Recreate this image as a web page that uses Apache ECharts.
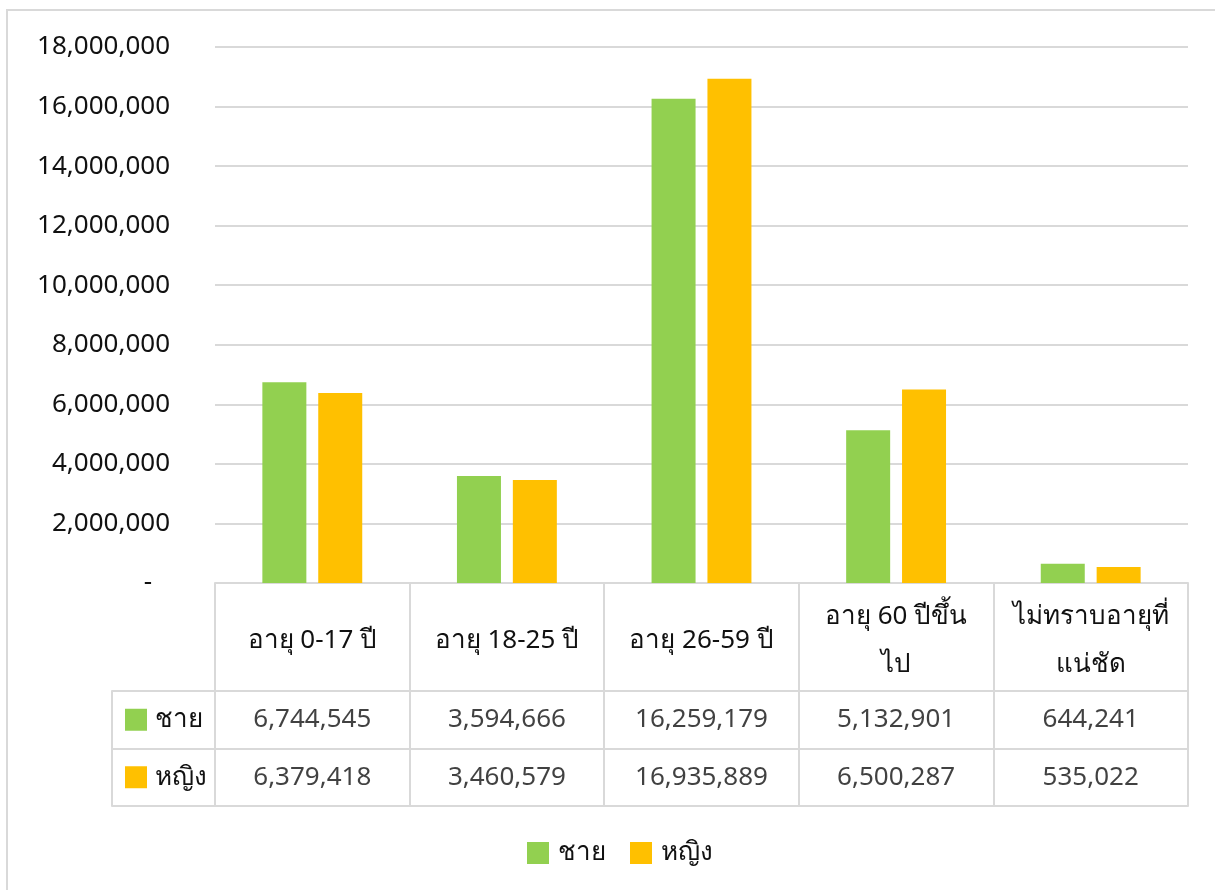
<!DOCTYPE html>
<html>
<head>
<meta charset="utf-8">
<script src="https://cdn.jsdelivr.net/npm/echarts@6/dist/echarts.min.js"></script>
<style>
  html, body { margin: 0; padding: 0; background: #fff; }
  #chart { width: 1215px; height: 890px; }
</style>
</head>
<body>
<div id="chart"></div>
<script>
// หมวดอายุ (header row of the table)
const categories = ['อายุ 0-17 ปี', 'อายุ 18-25 ปี', 'อายุ 26-59 ปี', 'อายุ 60 ปีขึ้น\nไป', 'ไม่ทราบอายุที่\nแน่ชัด'];
const seriesNames = ['ชาย', 'หญิง'];
const maleValues = [6744545, 3594666, 16259179, 5132901, 644241];
const femaleValues = [6379418, 3460579, 16935889, 6500287, 535022];
const yMax = 18000000;
const yStep = 2000000;

const colors = ['#92d050', '#ffc000'];
const lineColor = '#d9d9d9';
const textColor = '#111111';
const font = 'Noto Sans, DejaVu Sans, sans-serif';

const fmt = v => v.toLocaleString('en-US');

const chart = echarts.init(document.getElementById('chart'));

const tableData = [maleValues, femaleValues].map((vals, r) =>
  vals.map((v, i) => [i, r, v])
);

const option = {
  textStyle: { fontFamily: font, color: textColor },
  color: colors,
  grid: [
    { left: 215, right: 27, top: 47, bottom: 307 },
    { left: 215, right: 27, top: 691, bottom: 84 }
  ],
  xAxis: [
    {
      type: 'category',
      gridIndex: 0,
      data: categories,
      axisLine: { lineStyle: { color: lineColor, width: 2 } },
      axisTick: { show: true, interval: 0, length: 223, lineStyle: { color: lineColor, width: 2 } },
      axisLabel: {
        interval: 0,
        margin: 58,
        verticalAlign: 'middle',
        lineHeight: 48,
        fontSize: 26,
        color: textColor,
        fontFamily: font
      }
    },
    {
      type: 'category',
      gridIndex: 1,
      data: categories,
      axisLine: { lineStyle: { color: lineColor, width: 2 } },
      axisTick: { show: false },
      axisLabel: { show: false }
    },
    {
      type: 'category',
      gridIndex: 1,
      position: 'top',
      data: categories,
      axisLine: { lineStyle: { color: lineColor, width: 2 } },
      axisTick: { show: false },
      axisLabel: { show: false }
    }
  ],
  yAxis: [
    {
      type: 'value',
      gridIndex: 0,
      min: 0,
      max: yMax,
      interval: yStep,
      axisLine: { show: false },
      axisTick: { show: false },
      splitLine: { lineStyle: { color: lineColor, width: 2 } },
      axisLabel: {
        margin: 45,
        fontSize: 26,
        color: textColor,
        fontFamily: font,
        formatter: v => v === 0 ? '{z|-}' : fmt(v),
        rich: { z: { fontSize: 26, padding: [0, 18, 0, 0], color: textColor } }
      }
    },
    {
      type: 'category',
      gridIndex: 1,
      inverse: true,
      data: seriesNames,
      axisLine: { lineStyle: { color: lineColor, width: 2 } },
      axisTick: { show: true, interval: 0, length: 103, lineStyle: { color: lineColor, width: 2 } },
      splitLine: { show: true, lineStyle: { color: lineColor, width: 2 } },
      axisLabel: {
        margin: 90,
        align: 'left',
        formatter: (v, i) => '{s' + i + '|}{t|' + v + '}',
        rich: {
          s0: { width: 22, height: 22, backgroundColor: colors[0] },
          s1: { width: 22, height: 22, backgroundColor: colors[1] },
          t: { fontSize: 26, color: textColor, fontFamily: font, padding: [0, 0, 0, 8] }
        }
      }
    },
    {
      type: 'category',
      gridIndex: 1,
      position: 'left',
      offset: 103,
      data: seriesNames,
      axisLine: { lineStyle: { color: lineColor, width: 2 } },
      axisTick: { show: false },
      axisLabel: { show: false }
    }
  ],
  legend: {
    data: seriesNames,
    top: 840,
    left: 527,
    padding: 0,
    icon: 'rect',
    itemWidth: 22,
    itemHeight: 22,
    itemGap: 24,
    textStyle: { fontSize: 26, color: textColor, fontFamily: font, padding: [0, 0, 0, 4] }
  },
  graphic: [
    {
      type: 'rect',
      shape: { x: 7, y: 10, width: 1220, height: 900 },
      style: { fill: 'none', stroke: lineColor, lineWidth: 2 },
      silent: true
    }
  ],
  series: [
    {
      name: seriesNames[0],
      type: 'bar',
      xAxisIndex: 0,
      yAxisIndex: 0,
      barWidth: 44,
      barGap: '27%',
      data: maleValues
    },
    {
      name: seriesNames[1],
      type: 'bar',
      xAxisIndex: 0,
      yAxisIndex: 0,
      barWidth: 44,
      barGap: '27%',
      data: femaleValues
    }
  ].concat(tableData.map((d, r) => ({
    name: 'table' + r,
    type: 'scatter',
    xAxisIndex: 1,
    yAxisIndex: 1,
    symbolSize: 1,
    itemStyle: { color: 'transparent' },
    silent: true,
    label: {
      show: true,
      position: 'inside',
      fontSize: 26,
      color: textColor,
      fontFamily: font,
      formatter: p => fmt(p.value[2])
    },
    data: d
  })))
};

chart.setOption(option);
window.onresize = chart.resize;
</script>
</body>
</html>
